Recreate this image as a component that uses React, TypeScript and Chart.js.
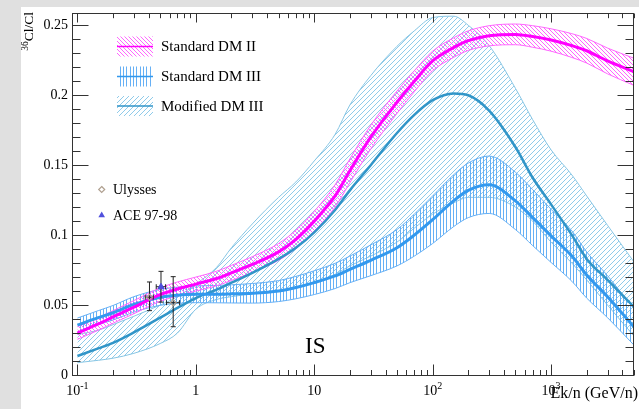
import React, { useEffect, useRef } from 'react';
import { Chart, registerables } from 'chart.js';

Chart.register(...registerables);

// ---------- data ----------
const ENERGY = [0.1, 0.15, 0.2, 0.3, 0.5, 0.7, 1, 1.5, 2, 3, 5, 7, 10, 15, 20, 30, 50, 70, 100, 150, 200, 300, 500, 700, 1000, 1500, 2000, 3000, 5000];

const DM2_MID = [0.030, 0.0365, 0.0415, 0.0485, 0.0575, 0.0615, 0.065, 0.069, 0.073, 0.079, 0.088, 0.097, 0.110, 0.128, 0.146, 0.170, 0.195, 0.210, 0.2245, 0.234, 0.239, 0.2425, 0.2435, 0.242, 0.2395, 0.2355, 0.2318, 0.2245, 0.2168];
const DM2_LOW = [0.0255, 0.032, 0.037, 0.0438, 0.0527, 0.0565, 0.060, 0.0638, 0.0676, 0.0734, 0.082, 0.0905, 0.103, 0.120, 0.1375, 0.1615, 0.187, 0.2025, 0.2175, 0.227, 0.232, 0.2353, 0.2361, 0.2343, 0.2315, 0.227, 0.223, 0.2153, 0.2071];
const DM2_HIGH = [0.0345, 0.041, 0.046, 0.0532, 0.0623, 0.0665, 0.070, 0.0742, 0.0784, 0.0846, 0.094, 0.1035, 0.117, 0.136, 0.1545, 0.1785, 0.203, 0.2175, 0.2315, 0.241, 0.246, 0.2497, 0.2509, 0.2497, 0.2475, 0.244, 0.2406, 0.2337, 0.2265];

const DM3_MID = [0.0357, 0.041, 0.0445, 0.0505, 0.0555, 0.057, 0.0577, 0.0578, 0.058, 0.0584, 0.060, 0.0625, 0.066, 0.0708, 0.0755, 0.082, 0.091, 0.100, 0.111, 0.1245, 0.132, 0.136, 0.1245, 0.1125, 0.0995, 0.085, 0.0715, 0.056, 0.0345];
const DM3_LOW = [0.0307, 0.036, 0.0393, 0.045, 0.0498, 0.0512, 0.0517, 0.0516, 0.0515, 0.0514, 0.0525, 0.0545, 0.0575, 0.0618, 0.066, 0.071, 0.078, 0.085, 0.094, 0.106, 0.1125, 0.1155, 0.104, 0.0925, 0.0805, 0.067, 0.055, 0.041, 0.0215];
const DM3_HIGH = [0.0407, 0.046, 0.0497, 0.056, 0.0612, 0.0628, 0.0637, 0.064, 0.0645, 0.0654, 0.0675, 0.0705, 0.0745, 0.0798, 0.085, 0.093, 0.104, 0.115, 0.128, 0.143, 0.1515, 0.1565, 0.145, 0.1325, 0.1185, 0.103, 0.088, 0.071, 0.0475];

const MOD_MID = [0.0136, 0.019, 0.023, 0.0305, 0.041, 0.048, 0.055, 0.061, 0.066, 0.073, 0.083, 0.091, 0.102, 0.118, 0.132, 0.150, 0.173, 0.186, 0.1965, 0.2013, 0.200, 0.189, 0.163, 0.141, 0.122, 0.100, 0.083, 0.068, 0.0488];
const MOD_LOW = [0.0088, 0.0105, 0.012, 0.0155, 0.0225, 0.030, 0.047, 0.054, 0.056, 0.058, 0.060, 0.062, 0.066, 0.072, 0.078, 0.085, 0.095, 0.105, 0.115, 0.123, 0.127, 0.127, 0.120, 0.110, 0.095, 0.080, 0.068, 0.050, 0.028];
const MOD_HIGH = [0.029, 0.032, 0.036, 0.042, 0.050, 0.056, 0.065, 0.077, 0.091, 0.108, 0.127, 0.138, 0.153, 0.172, 0.193, 0.214, 0.235, 0.246, 0.2555, 0.2565, 0.250, 0.2355, 0.205, 0.1825, 0.161, 0.143, 0.128, 0.107, 0.081];

const ULYSSES_E = [0.406, 0.644];
const ULYSSES_E_LO = [0.374, 0.565];
const ULYSSES_E_HI = [0.437, 0.73];
const ULYSSES_VAL = [0.0556, 0.0517];
const ULYSSES_ERR_LO = [0.0096, 0.0172];
const ULYSSES_ERR_HI = [0.0109, 0.0186];

const ACE_E = [0.508];
const ACE_E_LO = [0.463];
const ACE_E_HI = [0.556];
const ACE_VAL = [0.0631];
const ACE_ERR_LO = [0.011];
const ACE_ERR_HI = [0.011];

const X_MIN = 0.09;
const X_MAX = 5000;
const Y_MIN = 0;
const Y_MAX = 0.259;
const X_MAJOR = [0.1, 1, 10, 100, 1000];
const X_LABEL_BASE = ['10', '1', '10', '10', '10'];
const X_LABEL_EXP = ['-1', '', '', '2', '3'];
const X_MINOR_MULT = [2, 3, 4, 5, 6, 7, 8, 9];
const Y_TICKS = [0, 0.05, 0.1, 0.15, 0.2, 0.25];
const Y_TICK_LABELS = ['0', '0.05', '0.1', '0.15', '0.2', '0.25'];
const Y_MINOR_STEP = 0.01;

const LEGEND_MODELS = ['Standard DM II', 'Standard DM III', 'Modified DM III'];
const LEGEND_DATA = ['Ulysses', 'ACE 97-98'];

// ---------- styles ----------
const FONT = '"Liberation Serif", "Times New Roman", serif';
const MAG_LINE = '#ff00ff';
const MAG_EDGE = '#ff66ff';
const MAG_HATCH = '#ff66ff';
const STD_LINE = '#3399ee';
const STD_EDGE = '#66b0f5';
const STD_HATCH = '#66b0f5';
const MOD_LINE = '#3195c8';
const MOD_EDGE = '#88c6e4';
const MOD_HATCH = '#8fcbea';
const ULY_COLOR = '#b0a090';
const ACE_COLOR = '#5050dd';

function makePattern(kind: string, color: string, period = 4): CanvasPattern {
  const c = document.createElement('canvas');
  if (kind === 'vert') {
    c.width = 10; c.height = 4;
  } else {
    c.width = period; c.height = period;
  }
  const ctx = c.getContext('2d')!;
  ctx.clearRect(0, 0, c.width, c.height);
  ctx.fillStyle = color;
  if (kind === 'vert') {
    ctx.fillRect(0, 0, 1, 4);
    ctx.fillRect(3, 0, 1, 4);
    ctx.fillRect(6, 0, 1, 4);
  } else {
    for (let i = 0; i < period; i++) {
      if (kind === 'fwd') ctx.fillRect(i, period - 1 - i, 1, 1);
      else ctx.fillRect(i, i, 1, 1);
    }
  }
  return ctx.createPattern(c, 'repeat')!;
}

const pts = (xs: number[], ys: number[]) => xs.map((x, i) => ({ x, y: ys[i] }));

export default function App() {
  const ref = useRef<HTMLCanvasElement>(null);

  useEffect(() => {
    const canvas = ref.current!;
    const pMag = makePattern('back', MAG_HATCH, 4);
    const pStd = makePattern('vert', STD_HATCH);
    const pMod = makePattern('fwd', MOD_HATCH, 5);

    const lineBase = {
      pointRadius: 0,
      cubicInterpolationMode: 'monotone' as const,
      tension: 0.4,
    };

    const datasets: any[] = [
      { label: 'Ulysses', data: pts(ULYSSES_E, ULYSSES_VAL), showLine: false, pointStyle: 'rectRot', pointRadius: 3, borderColor: ULY_COLOR, backgroundColor: 'rgba(255,255,255,0)', borderWidth: 1.2, order: 0, marker: true },
      { label: 'ACE', data: pts(ACE_E, ACE_VAL), showLine: false, pointStyle: 'triangle', pointRadius: 3.5, borderColor: ACE_COLOR, backgroundColor: ACE_COLOR, borderWidth: 1, order: 0, marker: true },
      { ...lineBase, label: 'dm2 mid', data: pts(ENERGY, DM2_MID), borderColor: MAG_LINE, borderWidth: 3, fill: false, order: 1 },
      { ...lineBase, label: 'dm2 hi', data: pts(ENERGY, DM2_HIGH), borderColor: MAG_EDGE, borderWidth: 1, fill: false, order: 4 },
      { ...lineBase, label: 'dm2 lo', data: pts(ENERGY, DM2_LOW), borderColor: MAG_EDGE, borderWidth: 1, fill: 3, backgroundColor: pMag, order: 4 },
      { ...lineBase, label: 'dm3 mid', data: pts(ENERGY, DM3_MID), borderColor: STD_LINE, borderWidth: 3, fill: false, order: 2 },
      { ...lineBase, label: 'dm3 hi', data: pts(ENERGY, DM3_HIGH), borderColor: STD_EDGE, borderWidth: 1, fill: false, order: 5 },
      { ...lineBase, label: 'dm3 lo', data: pts(ENERGY, DM3_LOW), borderColor: STD_EDGE, borderWidth: 1, fill: 6, backgroundColor: pStd, order: 5 },
      { ...lineBase, label: 'mod mid', data: pts(ENERGY, MOD_MID), borderColor: MOD_LINE, borderWidth: 2.5, fill: false, order: 3 },
      { ...lineBase, label: 'mod hi', data: pts(ENERGY, MOD_HIGH), borderColor: MOD_EDGE, borderWidth: 1, fill: false, order: 6 },
      { ...lineBase, label: 'mod lo', data: pts(ENERGY, MOD_LOW), borderColor: MOD_EDGE, borderWidth: 1, fill: 9, backgroundColor: pMod, order: 6 },
    ];

    let errDrawn = false;

    const bgPlugin = {
      id: 'bg',
      beforeDraw(chart: any) {
        const ctx = chart.ctx;
        ctx.save();
        ctx.fillStyle = '#e0e0e0';
        ctx.fillRect(0, 0, chart.width, chart.height);
        ctx.fillStyle = '#ffffff';
        ctx.fillRect(21, 7, chart.width - 21, chart.height - 7);
        ctx.restore();
        errDrawn = false;
      },
    };

    const drawErr = (chart: any, es: number[], elo: number[], ehi: number[], vs: number[], vlo: number[], vhi: number[]) => {
      const ctx = chart.ctx;
      const xs = chart.scales.x, ys = chart.scales.y;
      ctx.save();
      ctx.strokeStyle = '#222';
      ctx.lineWidth = 1;
      const cap = 2.5;
      for (let i = 0; i < es.length; i++) {
        const px = xs.getPixelForValue(es[i]);
        const pl = xs.getPixelForValue(elo[i]);
        const ph = xs.getPixelForValue(ehi[i]);
        const py = ys.getPixelForValue(vs[i]);
        const pyl = ys.getPixelForValue(vs[i] - vlo[i]);
        const pyh = ys.getPixelForValue(vs[i] + vhi[i]);
        ctx.beginPath();
        ctx.moveTo(px, pyl); ctx.lineTo(px, pyh);
        ctx.moveTo(px - cap, pyl); ctx.lineTo(px + cap, pyl);
        ctx.moveTo(px - cap, pyh); ctx.lineTo(px + cap, pyh);
        ctx.moveTo(pl, py); ctx.lineTo(ph, py);
        ctx.moveTo(pl, py - cap); ctx.lineTo(pl, py + cap);
        ctx.moveTo(ph, py - cap); ctx.lineTo(ph, py + cap);
        ctx.stroke();
      }
      ctx.restore();
    };

    const errPlugin = {
      id: 'err',
      beforeDatasetDraw(chart: any, args: any) {
        const ds = chart.data.datasets[args.index];
        if (ds.marker && !errDrawn) {
          errDrawn = true;
          drawErr(chart, ULYSSES_E, ULYSSES_E_LO, ULYSSES_E_HI, ULYSSES_VAL, ULYSSES_ERR_LO, ULYSSES_ERR_HI);
          drawErr(chart, ACE_E, ACE_E_LO, ACE_E_HI, ACE_VAL, ACE_ERR_LO, ACE_ERR_HI);
        }
      },
    };

    const overlayPlugin = {
      id: 'overlay',
      afterDraw(chart: any) {
        const ctx = chart.ctx;
        const xs = chart.scales.x, ys = chart.scales.y;
        const { left, right, top, bottom } = chart.chartArea;
        ctx.save();
        // frame
        ctx.strokeStyle = '#333';
        ctx.lineWidth = 1;
        ctx.strokeRect(Math.round(left) + 0.5, Math.round(top) + 0.5, Math.round(right - left) - 1, Math.round(bottom - top));
        // x ticks (bottom and top)
        ctx.beginPath();
        const bY = Math.round(bottom) + 0.5;
        const tY = Math.round(top) + 0.5;
        for (const dec of X_MAJOR) {
          const mults = [1, ...X_MINOR_MULT];
          for (const m of mults) {
            const v = dec * m;
            if (v > X_MAX) continue;
            const px = Math.round(xs.getPixelForValue(v)) + 0.5;
            const major = m === 1;
            ctx.moveTo(px, bY); ctx.lineTo(px, bY - (major ? 11 : 5.5));
            ctx.moveTo(px, tY); ctx.lineTo(px, tY + (major ? 9 : 4.7));
          }
        }
        // y ticks (left and right)
        const lX = Math.round(left) + 0.5;
        const rX = Math.round(right) - 0.5;
        const nMinor = Math.round(Y_TICKS[Y_TICKS.length - 1] / Y_MINOR_STEP);
        for (let i = 0; i <= nMinor; i++) {
          const v = i * Y_MINOR_STEP;
          const py = Math.round(ys.getPixelForValue(v)) + 0.5;
          const major = i % 5 === 0;
          ctx.moveTo(lX, py); ctx.lineTo(lX + (major ? 16 : 8), py);
          ctx.moveTo(rX, py); ctx.lineTo(rX - (major ? 16 : 8), py);
        }
        ctx.stroke();

        // x tick labels with superscripts
        ctx.fillStyle = '#000';
        ctx.textBaseline = 'alphabetic';
        ctx.textAlign = 'left';
        X_MAJOR.forEach((v, i) => {
          const px = xs.getPixelForValue(v);
          ctx.font = `14px ${FONT}`;
          const wb = ctx.measureText(X_LABEL_BASE[i]).width;
          ctx.font = `10px ${FONT}`;
          const we = X_LABEL_EXP[i] ? ctx.measureText(X_LABEL_EXP[i]).width : 0;
          const x0 = px - (wb + we) / 2;
          ctx.font = `14px ${FONT}`;
          ctx.fillText(X_LABEL_BASE[i], x0, 395);
          if (X_LABEL_EXP[i]) {
            ctx.font = `10px ${FONT}`;
            ctx.fillText(X_LABEL_EXP[i], x0 + wb, 388.5);
          }
        });

        // x title
        ctx.font = `16px ${FONT}`;
        ctx.textAlign = 'right';
        ctx.fillText('Ek/n (GeV/n)', 638, 398);

        // y title (rotated)
        ctx.save();
        ctx.translate(33, 12);
        ctx.rotate(-Math.PI / 2);
        ctx.textAlign = 'left';
        ctx.font = `13.5px ${FONT}`;
        const wCl = ctx.measureText('Cl/Cl').width;
        ctx.fillText('Cl/Cl', -wCl, 0);
        ctx.font = `9.5px ${FONT}`;
        const w36 = ctx.measureText('36').width;
        ctx.fillText('36', -wCl - w36, -5);
        ctx.restore();

        // IS label
        ctx.font = `23px ${FONT}`;
        ctx.textAlign = 'left';
        ctx.fillText('IS', 305, 353);

        // model legend
        const pats = [pMag, pStd, pMod];
        const lines = [MAG_LINE, STD_LINE, MOD_LINE];
        const rows = [46.5, 76.5, 106];
        LEGEND_MODELS.forEach((txt, i) => {
          const cy = rows[i];
          ctx.fillStyle = pats[i];
          ctx.fillRect(117, cy - 10, 36, 20);
          ctx.strokeStyle = lines[i];
          ctx.lineWidth = 1.5;
          ctx.beginPath();
          ctx.moveTo(117, cy); ctx.lineTo(153, cy);
          ctx.stroke();
          ctx.fillStyle = '#000';
          ctx.font = `15px ${FONT}`;
          ctx.textBaseline = 'middle';
          ctx.fillText(txt, 161, cy + 1);
        });

        // data legend
        const drow = [189.5, 215];
        ctx.strokeStyle = ULY_COLOR;
        ctx.lineWidth = 1.2;
        ctx.beginPath();
        ctx.moveTo(101.7, drow[0] - 3); ctx.lineTo(104.7, drow[0]); ctx.lineTo(101.7, drow[0] + 3); ctx.lineTo(98.7, drow[0]); ctx.closePath();
        ctx.stroke();
        ctx.fillStyle = ACE_COLOR;
        ctx.beginPath();
        ctx.moveTo(101.7, drow[1] - 3.5); ctx.lineTo(105, drow[1] + 2.2); ctx.lineTo(98.4, drow[1] + 2.2); ctx.closePath();
        ctx.fill();
        ctx.fillStyle = '#000';
        ctx.font = `14px ${FONT}`;
        ctx.textBaseline = 'middle';
        LEGEND_DATA.forEach((t, i) => ctx.fillText(t, 113, drow[i] + 1));
        ctx.restore();
      },
    };

    const chart = new Chart(canvas, {
      type: 'line',
      data: { datasets },
      options: {
        responsive: false,
        maintainAspectRatio: false,
        devicePixelRatio: 1,
        animation: false,
        layout: { padding: { top: 12.7, right: 1.3, left: 0, bottom: 0 } },
        plugins: { legend: { display: false }, tooltip: { enabled: false } },
        scales: {
          x: {
            type: 'logarithmic',
            min: X_MIN,
            max: X_MAX,
            grid: { display: false, drawTicks: false },
            border: { display: false },
            ticks: { display: false },
            afterFit: (s: any) => { s.height = 34; },
          },
          y: {
            type: 'linear',
            min: Y_MIN,
            max: Y_MAX,
            grid: { display: false, drawTicks: false },
            border: { display: false },
            ticks: {
              padding: 4,
              color: '#000',
              font: { family: FONT, size: 14 },
              callback: (v: any) => {
                const i = Y_TICKS.indexOf(v);
                return i >= 0 ? Y_TICK_LABELS[i] : '';
              },
            },
            afterBuildTicks: (s: any) => { s.ticks = Y_TICKS.map((v) => ({ value: v })); },
            afterFit: (s: any) => { s.width = 72; },
          },
        },
      } as any,
      plugins: [bgPlugin, errPlugin, overlayPlugin],
    });
    return () => chart.destroy();
  }, []);

  return (
    <div style={{ position: 'fixed', left: 0, top: 0, width: 639, height: 409 }}>
      <canvas ref={ref} width={639} height={409} style={{ display: 'block', width: 639, height: 409 }} />
    </div>
  );
}
